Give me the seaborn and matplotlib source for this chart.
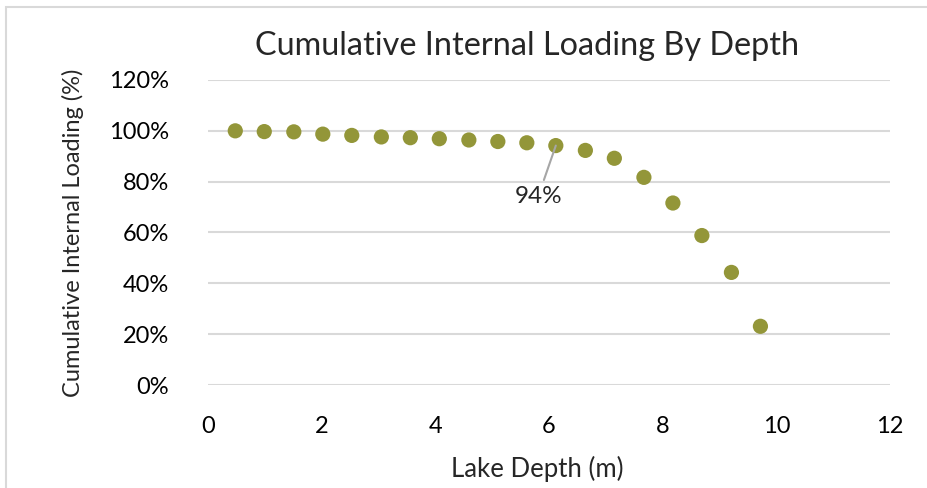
import matplotlib
matplotlib.use("Agg")
import matplotlib.pyplot as plt
import matplotlib.patches as mpatches
from matplotlib.ticker import PercentFormatter, MultipleLocator
import seaborn as sns
import pandas as pd

depth_m = [0.48, 0.99, 1.51, 2.02, 2.53, 3.05, 3.56, 4.07, 4.59, 5.10,
           5.61, 6.12, 6.64, 7.15, 7.67, 8.18, 8.69, 9.21, 9.72]
cum_loading = [1.000, 0.997, 0.996, 0.987, 0.982, 0.976, 0.973, 0.969, 0.964, 0.958,
               0.953, 0.942, 0.923, 0.892, 0.817, 0.716, 0.588, 0.443, 0.231]
title = "Cumulative Internal Loading By Depth"
x_label = "Lake Depth (m)"
y_label = "Cumulative Internal Loading (%)"
annot_index = 11
annot_text = "94%"

df = pd.DataFrame({"depth": depth_m, "loading": cum_loading})

sns.set_theme(style="white")
plt.rcParams["font.family"] = ["Lato", "DejaVu Sans"]

fig = plt.figure(figsize=(9.28, 4.88), dpi=100)
ax = fig.add_axes([208/928, 1-385/488, (890-208)/928, (385-80)/488])

sns.scatterplot(data=df, x="depth", y="loading", ax=ax, s=120,
                color="#939639", edgecolor="none", zorder=3)

ax.set_xlim(0, 12)
ax.set_ylim(0, 1.2)
ax.xaxis.set_major_locator(MultipleLocator(2))
ax.yaxis.set_major_locator(MultipleLocator(0.2))
ax.yaxis.set_major_formatter(PercentFormatter(1.0, decimals=0))
ax.grid(axis="y", color="#d9d9d9", linewidth=1.5)
ax.grid(axis="x", visible=False)
for s in ax.spines.values():
    s.set_visible(False)
ax.tick_params(axis="both", length=0, labelsize=17, colors="black")
ax.tick_params(axis="y", pad=28)
ax.tick_params(axis="x", pad=22)

ax.set_xlabel(x_label, fontsize=18.5, labelpad=14)
ax.xaxis.label.set_x(0.483)
ax.set_ylabel(y_label, fontsize=17, labelpad=18)
ax.set_title(title, fontsize=23.3, pad=18, x=0.468)

ax.annotate(annot_text, xy=(depth_m[annot_index], cum_loading[annot_index]),
            xytext=(5.81, 0.742), ha="center", va="center", fontsize=17.5,
            arrowprops=dict(arrowstyle="-", color="#a6a6a6", lw=1.5,
                            shrinkA=2, shrinkB=0), zorder=4)

fig.patches.append(mpatches.Rectangle((6.5/928, -0.1), 1.2, 1 - 7/488 + 0.1,
                                      transform=fig.transFigure, fill=False,
                                      edgecolor="#d9d9d9", linewidth=1.5))

fig.savefig("out.png", dpi=100)
